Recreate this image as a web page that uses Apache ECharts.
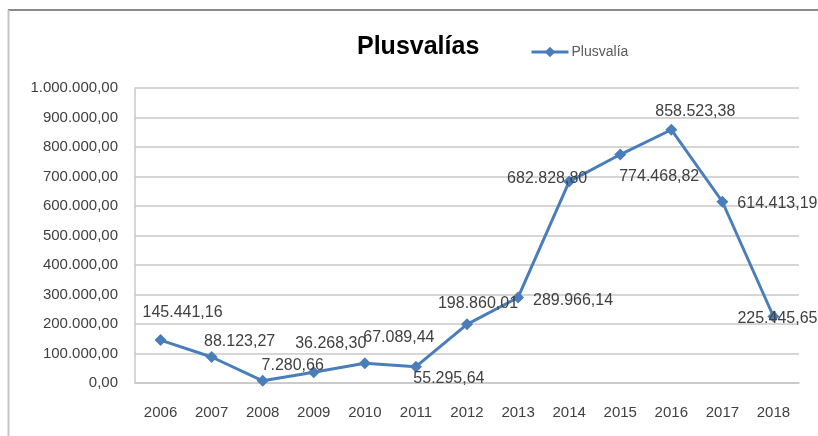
<!DOCTYPE html>
<html>
<head>
<meta charset="utf-8">
<script src="https://cdn.jsdelivr.net/npm/echarts@6/dist/echarts.min.js"></script>
<style>
html,body{margin:0;padding:0;background:#fff;}
#c{width:818px;height:436px;}
</style>
</head>
<body>
<div id="c"></div>
<script>
const categories = ['2006','2007','2008','2009','2010','2011','2012','2013','2014','2015','2016','2017','2018'];
const plusvalia = [145441.16, 88123.27, 7280.66, 36268.30, 67089.44, 55295.64, 198860.01, 289966.14, 682828.80, 774468.82, 858523.38, 614413.19, 225445.65];
const yMin = 0, yMax = 1000000, yStep = 100000;
const titleText = 'Plusvalías';
const seriesName = 'Plusvalía';

// label offsets (pixels, relative to the point) as placed in the reference
const labelOffsets = [[22,-28],[28,-15],[30,-15],[17,-29],[34,-26],[33,12],[11,-21],[55,3],[-22,-3],[39,22],[24,-18],[55,2],[4,2]];

function fmt(v){
  const parts = v.toFixed(2).split('.');
  parts[0] = parts[0].replace(/\B(?=(\d{3})+(?!\d))/g, '.');
  return parts[0] + ',' + parts[1];
}

const font = '"Liberation Sans", Arial, sans-serif';
const chart = echarts.init(document.getElementById('c'), null, {renderer:'canvas'});
chart.setOption({
  backgroundColor:'#ffffff',
  animation:false,
  title:{
    text:titleText, left:352, top:30,
    textStyle:{fontFamily:font, fontWeight:'bold', fontSize:25, color:'#000'}
  },
  legend:{
    data:[seriesName], left:525, top:40,
    itemWidth:37, itemHeight:13, itemGap:4,
    lineStyle:{width:3},
    textStyle:{fontFamily:font, fontSize:14, color:'#595959', padding:[0,0,0,-2]}
  },
  graphic:[
    {type:'line', shape:{x1:8, y1:10, x2:818, y2:10}, style:{stroke:'#8a8a8a', lineWidth:2}, silent:true},
    {type:'line', shape:{x1:8.5, y1:10, x2:8.5, y2:436}, style:{stroke:'#c4c4c4', lineWidth:2}, silent:true}
  ],
  grid:{left:135, right:19, top:88, bottom:53, containLabel:false},
  xAxis:{
    type:'category', data:categories, boundaryGap:true,
    axisLine:{show:true, lineStyle:{color:'#c8c8c8', width:1.5}},
    axisTick:{show:false},
    axisLabel:{fontFamily:font, fontSize:15, color:'#404040', margin:22}
  },
  yAxis:{
    type:'value', min:yMin, max:yMax, interval:yStep,
    axisLine:{show:true, lineStyle:{color:'#c8c8c8', width:1.5}},
    axisTick:{show:false},
    splitLine:{show:true, lineStyle:{color:'#c8c8c8', width:1.5}},
    axisLabel:{fontFamily:font, fontSize:15, color:'#404040', margin:17, formatter:v=>fmt(v)}
  },
  series:[{
    name:seriesName, type:'line', data:plusvalia.map((v,i)=>({value:v, label:{offset:labelOffsets[i]}})),
    symbol:'diamond', symbolSize:[12,12],
    lineStyle:{color:'#4a7ebb', width:3},
    itemStyle:{color:'#4a7ebb'},
    label:{show:true, position:'inside', fontFamily:font, fontSize:16, color:'#404040',
      formatter:p=>fmt(p.value)},
    z:3
  }]
});
</script>
</body>
</html>
